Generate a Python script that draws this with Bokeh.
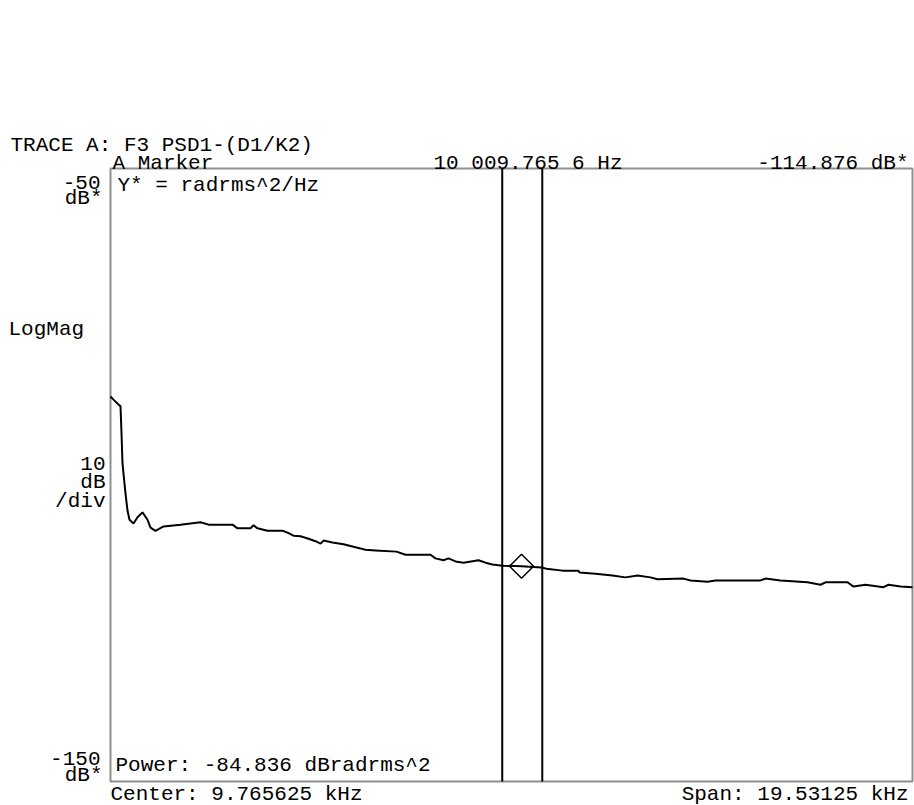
import math
from bokeh.plotting import figure
from bokeh.models import Range1d, Label
from bokeh.embed import file_html
from bokeh.resources import INLINE

# ---- data ----
freq_hz = [0, 73, 195, 244, 268, 292, 365, 414, 463, 560, 658, 779, 901, 974, 1096,
           1291, 1705, 2192, 2387, 2971, 3093, 3409, 3482, 3580, 3823, 4189, 4311,
           4457, 4627, 4822, 4992, 5114, 5187, 5406, 5674, 5966, 6210, 6454, 6965,
           7184, 7793, 7915, 8110, 8231, 8402, 8597, 8962, 9132, 9303, 9546, 10009.8,
           10496, 10618, 11008, 11397, 11422, 11811, 12225, 12542, 12834, 13151, 13321,
           13954, 14125, 14539, 14734, 15830, 15951, 16317, 16974, 17291, 17413, 17948,
           18095, 18387, 18825, 18947, 19239, 19531]
psd_db = [-87.2, -87.7, -88.5, -88.8, -93.2, -98.1, -103.0, -105.8, -107.3, -107.9,
          -106.9, -106.1, -107.3, -108.6, -109.1, -108.4, -108.1, -107.7, -108.1, -108.1,
          -108.7, -108.7, -108.2, -108.7, -109.1, -109.1, -109.4, -109.9, -110.0, -110.4,
          -110.8, -111.2, -110.7, -111.0, -111.3, -111.8, -112.2, -112.3, -112.5, -113.0,
          -113.0, -113.6, -113.9, -113.6, -114.1, -114.3, -113.9, -114.3, -114.6, -114.8,
          -114.876, -115.1, -115.3, -115.6, -115.6, -115.9, -116.1, -116.4, -116.7, -116.4,
          -116.7, -117.0, -116.9, -117.2, -117.4, -117.2, -117.2, -116.9, -117.2, -117.5,
          -117.9, -117.5, -117.5, -118.2, -117.9, -118.3, -117.9, -118.2, -118.3]
marker_freq = [10009.7656]
marker_db = [-114.876]
band_edges_hz = [9540, 10515]
x_span = [0, 19531.25]
y_span = [-150, -50]

FONT = "Liberation Mono"
FS = "21px"

# ---- layout (pixels) ----
W, H = 914, 805
BOX_L, BOX_R, BOX_T, BOX_B = 110, 912, 168, 781
hz_per_px = (x_span[1] - x_span[0]) / (BOX_R - BOX_L)
db_per_px = (y_span[1] - y_span[0]) / (BOX_B - BOX_T)
x_rng = Range1d(x_span[0] - BOX_L * hz_per_px, x_span[1] + (W - BOX_R) * hz_per_px)
y_rng = Range1d(y_span[0] - (H - BOX_B) * db_per_px, y_span[1] + BOX_T * db_per_px)

p = figure(width=W, height=H, output_backend="svg", toolbar_location=None,
           x_axis_type=None, y_axis_type=None, title_location=None,
           x_range=x_rng, y_range=y_rng)
p.min_border_left = 0
p.min_border_right = 0
p.min_border_top = 0
p.min_border_bottom = 0
p.background_fill_color = "white"
p.border_fill_color = "white"
p.outline_line_color = None
p.xgrid.visible = False
p.ygrid.visible = False

# plot box
p.quad(left=[x_span[0]], right=[x_span[1]], bottom=[y_span[0]], top=[y_span[1]],
       fill_alpha=0, line_color="#8f8f8f", line_width=2)

# trace
p.line(freq_hz, psd_db, line_color="black", line_width=2)

# band marker lines
p.segment(x0=band_edges_hz, y0=[y_span[0]] * len(band_edges_hz),
          x1=band_edges_hz, y1=[y_span[1]] * len(band_edges_hz),
          line_color="black", line_width=2)

# marker diamond
p.scatter(marker_freq, marker_db, marker="square", angle=math.pi / 4, size=17,
          fill_alpha=0, line_color="black", line_width=1.5)


def lab(text, x, y, align="left"):
    p.add_layout(Label(x=x, y=y, x_units="canvas", y_units="canvas", text=text,
                       text_align=align, text_baseline="alphabetic",
                       text_font=FONT, text_font_size=FS, text_color="black"))


lab("TRACE A: F3 PSD1-(D1/K2)", 10, 145)
lab("A Marker", 112, 163)
lab("10 009.765 6 Hz", 433, 163)
lab("-114.876 dB*", 908, 163, "right")
lab("-50", 100, 182, "right")
lab("dB*", 102, 198, "right")
lab("Y* = radrms^2/Hz", 117, 185)
lab("LogMag", 8, 329)
lab("10", 105, 463, "right")
lab("dB", 105, 482, "right")
lab("/div", 105, 501, "right")
lab("-150", 100, 758, "right")
lab("dB*", 102, 775, "right")
lab("Power: -84.836 dBradrms^2", 115, 765)
lab("Center: 9.765625 kHz", 110, 794)
lab("Span: 19.53125 kHz", 908, 794, "right")

open("out.html", "w").write(file_html(p, INLINE))
